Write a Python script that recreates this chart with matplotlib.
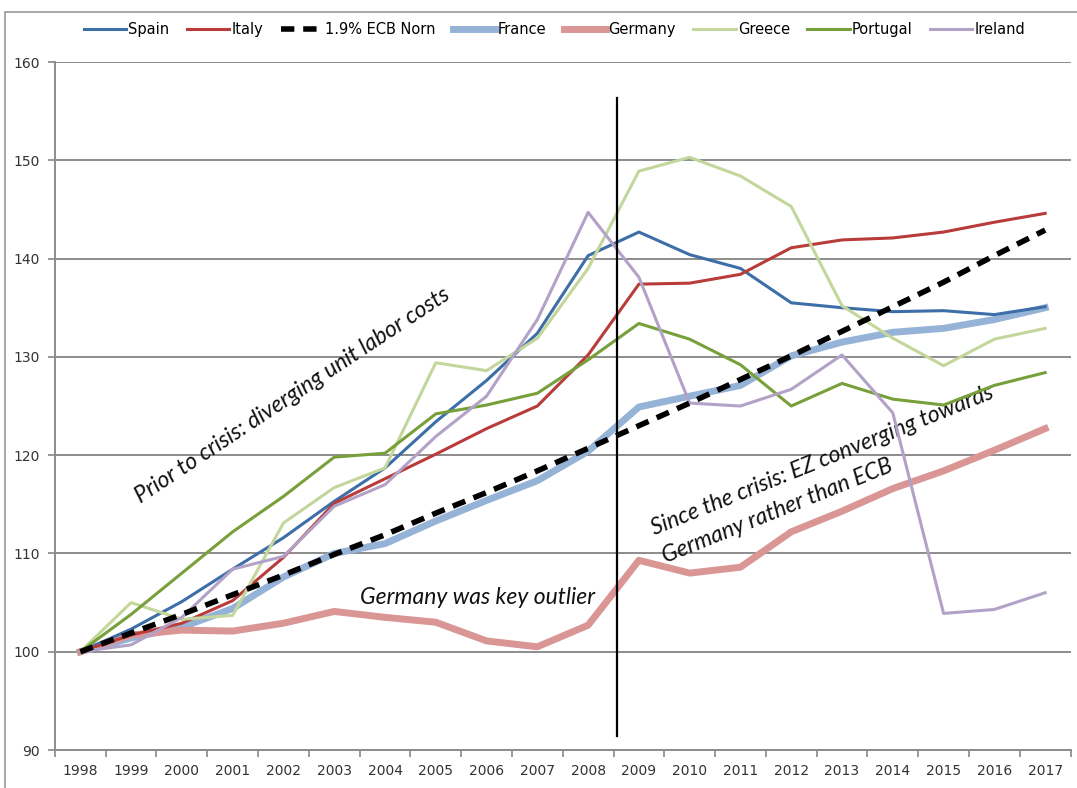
import numpy as np
import matplotlib.pyplot as plt
from matplotlib.patches import Rectangle

years = [str(y) for y in range(1998, 2018)]

spain = [100, 102.3, 105.1, 108.4, 111.6, 115.3, 118.7, 123.4, 127.6, 132.4,
         140.3, 142.7, 140.4, 139.0, 135.5, 135.0, 134.6, 134.7, 134.3, 135.1]
italy = [100, 101.7, 102.9, 105.2, 109.6, 115.1, 117.6, 120.1, 122.7, 125.0,
         130.2, 137.4, 137.5, 138.4, 141.1, 141.9, 142.1, 142.7, 143.7, 144.6]
ecb = [100, 101.9, 103.8, 105.8, 107.8, 109.9, 111.9, 114.1, 116.2, 118.4,
       120.7, 123.0, 125.3, 127.7, 130.1, 132.6, 135.1, 137.6, 140.3, 142.9]
france = [100, 101.4, 102.5, 104.4, 107.6, 110.0, 111.0, 113.3, 115.4, 117.4,
          120.4, 124.9, 126.0, 127.1, 130.1, 131.5, 132.5, 132.9, 133.8, 135.0]
germany = [100, 101.7, 102.2, 102.1, 102.9, 104.1, 103.5, 103.0, 101.1, 100.5,
           102.7, 109.3, 108.0, 108.6, 112.2, 114.3, 116.6, 118.4, 120.5, 122.7]
greece = [100, 105.0, 103.3, 103.7, 113.1, 116.7, 118.7, 129.4, 128.6, 131.9,
          139.0, 148.9, 150.3, 148.4, 145.3, 135.2, 131.9, 129.1, 131.8, 132.9]
portugal = [100, 103.8, 108.0, 112.2, 115.8, 119.8, 120.2, 124.2, 125.1, 126.3,
            129.7, 133.4, 131.8, 129.2, 125.0, 127.3, 125.7, 125.1, 127.1, 128.4]
ireland = [100, 100.7, 103.5, 108.4, 109.7, 114.8, 117.0, 121.9, 126.0, 133.8,
           144.7, 138.1, 125.3, 125.0, 126.7, 130.2, 124.3, 103.9, 104.3, 106.0]

crisis_x = 10.57
crisis_y = [91.4, 156.3]

fig = plt.figure(figsize=(10.77, 7.88), dpi=100)
ax = fig.add_axes([0.051, 0.0482, 0.943, 0.8731])

x = np.arange(len(years))
ax.plot(x, spain, color="#3d6ea8", lw=2.2, label="Spain", zorder=5)
ax.plot(x, italy, color="#b83c3a", lw=2.2, label="Italy", zorder=5)
ax.plot(x, ecb, color="black", lw=4, ls=(0, (2.4, 1.6)), label="1.9% ECB Norn", zorder=6)
ax.plot(x, france, color="#95b3d7", lw=5, label="France", zorder=4)
ax.plot(x, germany, color="#d99694", lw=5, label="Germany", zorder=4)
ax.plot(x, greece, color="#c3d69b", lw=2.2, label="Greece", zorder=5)
ax.plot(x, portugal, color="#77a03a", lw=2.2, label="Portugal", zorder=5)
ax.plot(x, ireland, color="#b3a2c7", lw=2.2, label="Ireland", zorder=5)

ax.plot([crisis_x, crisis_x], crisis_y, color="black", lw=1.6, zorder=7)

ax.set_xlim(-0.5, len(years) - 0.5)
ax.set_ylim(90, 160)
ax.set_yticks(range(90, 161, 10))
ax.set_xticks(x)
ax.set_xticklabels(years)
ax.set_xticks(np.arange(-0.5, len(years), 1), minor=True)
ax.tick_params(axis="x", which="major", length=0, pad=10, labelsize=10, labelcolor="#333333")
ax.tick_params(axis="x", which="minor", length=5, color="#888888", width=1.2)
ax.tick_params(axis="y", length=5, color="#888888", width=1.2, labelsize=10, labelcolor="#333333", pad=6)
ax.grid(axis="y", color="#8c8c8c", lw=1.4)
ax.set_axisbelow(True)
for s in ["top", "right"]:
    ax.spines[s].set_visible(False)
for s in ["left", "bottom"]:
    ax.spines[s].set_color("#8c8c8c")
    ax.spines[s].set_linewidth(1.4)

fig.legend(loc="center", bbox_to_anchor=(0.515, 0.962), ncol=8, frameon=False,
           prop={"family": ["Liberation Sans Narrow", "DejaVu Sans"], "size": 10.5},
           handlelength=2.9, columnspacing=1.2, handletextpad=0.15)

note_font = dict(family="Lato", style="italic", fontsize=16.5, color="#111111")
ax.text(4.17, 126.1, "Prior to crisis: diverging unit labor costs",
        rotation=33.5, ha="center", va="center", rotation_mode="anchor", **note_font)
ax.text(7.83, 105.5, "Germany was key outlier", ha="center", va="center", **note_font)
ax.text(14.72, 118.0, "Since the crisis: EZ converging towards\nGermany rather than ECB",
        rotation=22, ha="center", va="center", rotation_mode="anchor",
        multialignment="left", linespacing=1.55, **note_font)

fig.patches.append(Rectangle((5 / 1077, -0.1), 1.2, 1 - 12 / 788 + 0.1,
                             transform=fig.transFigure, fill=False,
                             edgecolor="#9a9a9a", lw=1.2))

fig.savefig("out.png", dpi=100)
